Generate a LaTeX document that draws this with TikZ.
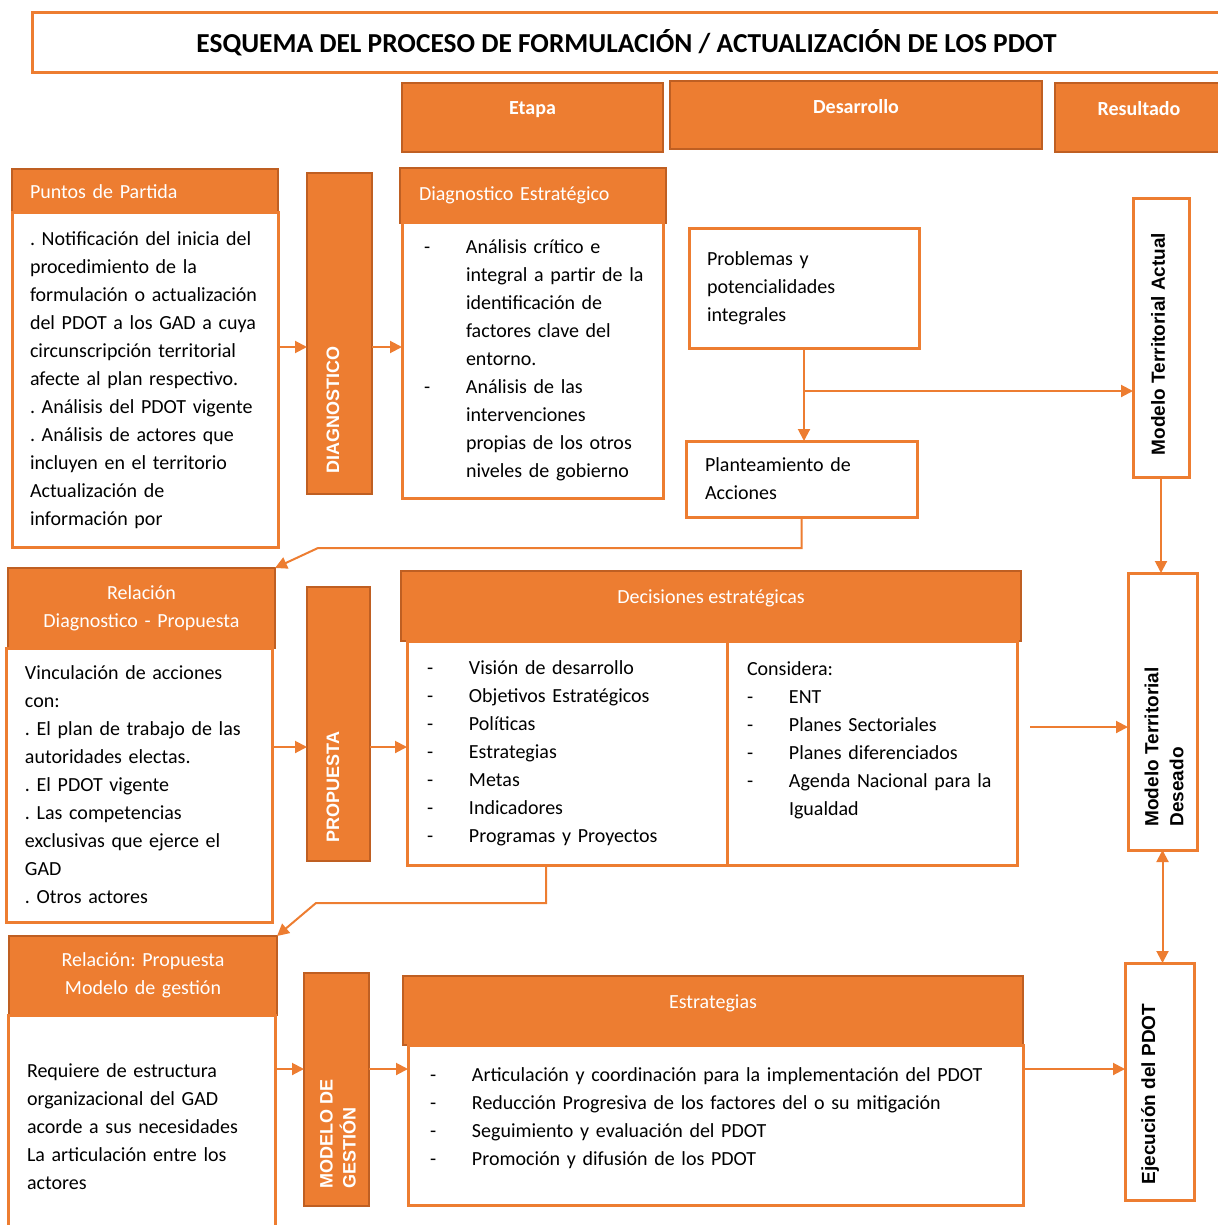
\documentclass[tikz,border=0pt]{standalone}
\usepackage{graphicx}
\usepackage{fontspec}
\setmainfont{Carlito}
\newfontfamily\arialfont{Liberation Sans}
\usepackage{tikz}
\usetikzlibrary{arrows.meta,positioning,calc}
\frenchspacing

\definecolor{pdotorange}{HTML}{ED7D31}
\definecolor{pdotdark}{HTML}{BF5F22}

\newcommand{\listdash}{\makebox[21pt][l]{-}}
\newcommand{\listgap}{\hspace*{21pt}}

\begin{document}
\begin{tikzpicture}[x=0.5pt,y=-0.5pt,
    every node/.style={inner sep=0pt, outer sep=0pt},
    textfont/.style={font=\fontsize{10}{14}\selectfont},
    headbox/.style={draw=pdotdark, fill=pdotorange, line width=1.2pt, text=white, textfont},
    colhead/.style={headbox, font=\bfseries\fontsize{10}{14}\selectfont, text depth=9pt},
    bodybox/.style={draw=pdotorange, fill=white, line width=1.5pt, textfont, align=left},
    stagebar/.style={draw=pdotdark, fill=pdotorange, line width=1.2pt},
    barlabel/.style={rotate=90, text=white, align=left, font=\arialfont\bfseries\fontsize{9}{11.5}\selectfont},
    resultbox/.style={draw=pdotorange, fill=white, line width=1.5pt},
    resultlabel/.style={rotate=90, align=left, font=\arialfont\bfseries\fontsize{9.5}{12.5}\selectfont},
    link/.style={draw=pdotorange, line width=1pt},
    arr/.style={link, -{Triangle[length=6pt,width=6pt]}},
  ]
  \useasboundingbox (0,0) rectangle (1218,1225);

  % title and column heads
  \node[draw=pdotorange, line width=1.5pt, fill=white, anchor=north west, minimum width=594.5pt, minimum height=30pt,
        font=\bfseries\fontsize{13.7}{16}\selectfont] (title) at (32,13) {ESQUEMA DEL PROCESO DE FORMULACIÓN / ACTUALIZACIÓN DE LOS PDOT};
  \node[colhead, anchor=north west, minimum width=130.5pt, minimum height=34.5pt] (etapa) at (402,83) {Etapa};
  \node[colhead, anchor=north west, minimum width=186pt, minimum height=34pt] (desarrollo) at (670,81) {Desarrollo};
  \node[colhead, anchor=north west, minimum width=84pt, minimum height=34.5pt] (resultado) at (1055,83) {Resultado};

  % diagnostico
  \node[headbox, anchor=north west, minimum height=22pt, text width=115pt, inner xsep=9pt, align=left, text height=8pt] (puntosh) at (12,169) {Puntos de Partida};
  \node[bodybox, anchor=north west, minimum height=167pt, text width=115pt, inner xsep=9pt] (puntos) at (12,213)
    {. Notificación del inicia del\\ procedimiento de la\\ \mbox{formulación o actualización}\\ del PDOT a los GAD a cuya\\ circunscripción territorial\\ afecte al plan respectivo.\\ . Análisis del PDOT vigente\\ . Análisis de actores que\\ incluyen en el territorio\\ Actualización de\\ información por};
  \node[stagebar, anchor=north west, minimum width=32.5pt, minimum height=160.5pt] (diagbar) at (307,173) {};
  \node[barlabel] (diaglabel) at (333,410) {DIAGNOSTICO};
  \node[headbox, anchor=north west, minimum height=27.5pt, text width=114pt, inner xsep=9.5pt, align=left] (diagh) at (400,168) {Diagnostico Estratégico};
  \node[bodybox, anchor=north west, minimum height=137.5pt, text width=108.5pt, inner xsep=11pt] (diag) at (402,223)
    {\listdash Análisis crítico e\\ \listgap\mbox{integral a partir de la}\\ \listgap identificación de\\ \listgap factores clave del\\ \listgap entorno.\\ \listdash Análisis de las\\ \listgap intervenciones\\ \listgap\mbox{propias de los otros}\\ \listgap\mbox{niveles de gobierno}};
  \node[bodybox, anchor=north west, minimum height=59.5pt, text width=97pt, inner xsep=9pt] (prob) at (689,229) {Problemas y\\ potencialidades\\ integrales};
  \node[bodybox, anchor=north west, minimum height=38pt, text width=96.5pt, inner xsep=9.5pt] (plan) at (686,441) {Planteamiento de\\ Acciones};
  \node[resultbox, anchor=north west, minimum width=28pt, minimum height=139pt] (mta) at (1133,199) {};
  \node[resultlabel] (mtalabel) at (1158,344) {Modelo Territorial Actual};

  % propuesta
  \node[headbox, anchor=north west, minimum height=40pt, text width=133.5pt, align=center] (relh) at (8,568) {Relación\\ Diagnostico - Propuesta};
  \node[bodybox, anchor=north west, minimum height=137pt, text width=114pt, inner xsep=9.5pt] (rel) at (6,648)
    {Vinculación de acciones\\ con:\\ . El plan de trabajo de las\\ autoridades electas.\\ . El PDOT vigente\\ . Las competencias\\ exclusivas que ejerce el\\ GAD\\ . Otros actores};
  \node[stagebar, anchor=north west, minimum width=31.5pt, minimum height=137pt] (propbar) at (307,587) {};
  \node[barlabel] (proplabel) at (333,787) {PROPUESTA};
  \node[headbox, text depth=9pt, anchor=north west, minimum width=310pt, minimum height=35pt] (dech) at (401,571) {Decisiones estratégicas};
  \node[bodybox, anchor=north west, minimum height=112pt, text width=140pt, inner xsep=10pt] (decl) at (407,641)
    {\listdash Visión de desarrollo\\ \listdash Objetivos Estratégicos\\ \listdash Políticas\\ \listdash Estrategias\\ \listdash Metas\\ \listdash Indicadores\\ \listdash Programas y Proyectos};
  \node[bodybox, anchor=north west, minimum height=112pt, text width=125pt, inner xsep=10pt] (decr) at (727,641)
    {Considera:\\ \listdash ENT\\ \listdash Planes Sectoriales\\ \listdash Planes diferenciados\\ \listdash Agenda Nacional para la\\ \listgap Igualdad\\ \mbox{}};
  \node[resultbox, anchor=north west, minimum width=34.5pt, minimum height=138.5pt] (mtd) at (1128,573) {};
  \node[resultlabel] (mtdlabel) at (1164,747) {Modelo Territorial\\ Deseado};

  % modelo de gestion
  \node[headbox, anchor=north west, minimum height=39.5pt, text width=134pt, align=center] (relph) at (9,936) {Relación: Propuesta\\ Modelo de gestión};
  \node[bodybox, anchor=north west, minimum height=112pt, text width=114.5pt, inner xsep=9.5pt] (relp) at (8,1015)
    {Requiere de estructura\\ organizacional del GAD\\ \mbox{acorde a sus necesidades}\\ La articulación entre los\\ actores};
  \node[stagebar, anchor=north west, minimum width=32.5pt, minimum height=116.5pt] (gestbar) at (304,973) {};
  \node[barlabel] (gestlabel) at (338,1134) {MODELO DE\\ GESTIÓN};
  \node[headbox, text depth=9pt, anchor=north west, minimum width=310pt, minimum height=34.5pt] (estrh) at (403,976) {Estrategias};
  \node[bodybox, anchor=north west, minimum height=80pt, text width=285.5pt, inner xsep=11pt] (estr) at (408,1045)
    {\listdash Articulación y coordinación para la implementación del PDOT\\ \listdash Reducción Progresiva de los factores del o su mitigación\\ \listdash Seguimiento y evaluación del PDOT\\ \listdash Promoción y difusión de los PDOT\\[-6pt] \mbox{}};
  \node[resultbox, anchor=north west, minimum width=34.5pt, minimum height=118.5pt] (ejec) at (1125,963) {};
  \node[resultlabel] (ejeclabel) at (1150,1094) {Ejecución del PDOT};

  % connectors
  \coordinate (rowa) at (0,347);
  \coordinate (rowb) at (0,747);
  \coordinate (rowc) at (0,1069);
  \coordinate (fork) at (0,391);
  \coordinate (bendA) at (318,548);
  \coordinate (bendB) at (316,903);
  \coordinate (decout) at ([shift={(6.5pt,13pt)}]decr.east);

  \draw[arr] (puntos.east |- rowa) -- (diagbar.west |- rowa);
  \draw[arr] (diagbar.east |- rowa) -- (diag.west |- rowa);
  \draw[arr] (prob.south) -- (prob.south |- plan.north);
  \draw[arr] (prob.south |- fork) -- (mta.west |- fork);
  \draw[arr] (plan.south) |- (bendA) -- (relh.north east);
  \draw[arr] (mta.south) -- (mta.south |- mtd.north);

  \draw[arr] (rel.east |- rowb) -- (propbar.west |- rowb);
  \draw[arr] (propbar.east |- rowb) -- (decl.west |- rowb);
  \draw[arr] (decout) -- (decout -| mtd.west);
  \draw[arr] ([xshift=-10.5pt]decl.south) |- (bendB) -- (relph.north east);
  \draw[link, {Triangle[length=6pt,width=6pt]}-{Triangle[length=6pt,width=6pt]}] (mtd.south) -- (mtd.south |- ejec.north);

  \draw[arr] (relp.east |- rowc) -- (gestbar.west |- rowc);
  \draw[arr] (gestbar.east |- rowc) -- (estr.west |- rowc);
  \draw[arr] (estr.east |- rowc) -- (ejec.west |- rowc);
\end{tikzpicture}
\end{document}
